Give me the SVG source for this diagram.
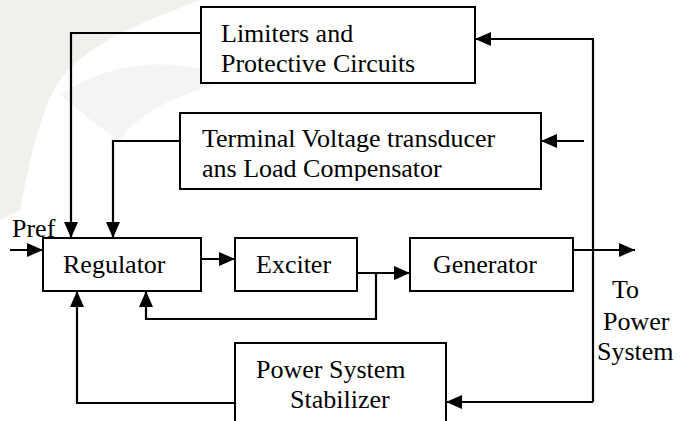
<svg xmlns="http://www.w3.org/2000/svg" width="689" height="421" viewBox="0 0 689 421">
  <defs>
    <style>
      .box { fill: #ffffff; stroke: #000000; stroke-width: 2; }
      .wire { fill: none; stroke: #000000; stroke-width: 2.2; }
      .lbl { font-family: "Liberation Serif", "Times New Roman", serif; font-size: 26px; fill: #000000; }
    </style>
    <marker id="arr" markerUnits="userSpaceOnUse" markerWidth="16" markerHeight="14" refX="16" refY="7" orient="auto">
      <path d="M0,0 L16,7 L0,14 z" fill="#000000"/>
    </marker>
    <clipPath id="tvclip">
      <rect x="180" y="113" width="361" height="68"/>
    </clipPath>
  </defs>

  <rect x="0" y="0" width="689" height="421" fill="#ffffff"/>
  <!-- faint background watermark -->
  <g id="watermark" fill="#efede8" opacity="0.8">
    <path d="M0,0 L200,0 C150,20 90,40 60,80 C40,110 30,160 20,210 L0,220 z"/>
    <path d="M60,95 C110,60 180,55 230,80 C200,90 150,100 120,140 C100,130 80,110 60,95 z" opacity="0.7"/>
  </g>

  <g id="connectors">
    <!-- Limiters -> Regulator -->
    <polyline class="wire" points="200,33 71,33 71,238" marker-end="url(#arr)"/>
    <!-- Terminal -> Regulator -->
    <polyline class="wire" points="180,141 113,141 113,238" marker-end="url(#arr)"/>
    <!-- Pref -> Regulator -->
    <line class="wire" x1="10" y1="250" x2="43" y2="250" marker-end="url(#arr)"/>
    <!-- Regulator -> Exciter -->
    <line class="wire" x1="201" y1="259" x2="235" y2="259" marker-end="url(#arr)"/>
    <!-- Exciter -> Generator -->
    <line class="wire" x1="357" y1="273" x2="410" y2="273" marker-end="url(#arr)"/>
    <!-- Exciter feedback to Regulator -->
    <polyline class="wire" points="376,273 376,319 146,319 146,291" marker-end="url(#arr)"/>
    <!-- Generator output -->
    <line class="wire" x1="573" y1="250" x2="635" y2="250" marker-end="url(#arr)"/>
    <!-- Right bus to Limiters and PSS -->
    <polyline class="wire" points="593,402 593,39 475,39" marker-end="url(#arr)"/>
    <line class="wire" x1="593" y1="402" x2="446" y2="402" marker-end="url(#arr)"/>
    <!-- To Terminal transducer -->
    <line class="wire" x1="584" y1="141" x2="541" y2="141" marker-end="url(#arr)"/>
    <!-- PSS -> Regulator -->
    <polyline class="wire" points="235,403 77,403 77,291" marker-end="url(#arr)"/>
  </g>

  <g id="limiters">
    <rect class="box" x="201" y="7" width="274" height="76"/>
    <text class="lbl" x="221" y="42">Limiters and</text>
    <text class="lbl" x="221" y="72">Protective Circuits</text>
  </g>

  <g id="terminal">
    <rect class="box" x="180" y="113" width="361" height="76"/>
    <g clip-path="url(#tvclip)">
      <text class="lbl" x="202" y="147">Terminal Voltage transducer</text>
      <text class="lbl" x="202" y="177">ans Load Compensator</text>
    </g>
  </g>

  <g id="regulator">
    <rect class="box" x="43" y="238" width="158" height="53"/>
    <text class="lbl" x="63" y="273">Regulator</text>
  </g>

  <g id="exciter">
    <rect class="box" x="235" y="238" width="122" height="53"/>
    <text class="lbl" x="256" y="273">Exciter</text>
  </g>

  <g id="generator">
    <rect class="box" x="410" y="238" width="163" height="53"/>
    <text class="lbl" x="433" y="273">Generator</text>
  </g>

  <g id="pss">
    <rect class="box" x="235" y="343" width="211" height="90"/>
    <text class="lbl" x="256" y="378">Power System</text>
    <text class="lbl" x="290" y="408">Stabilizer</text>
  </g>

  <g id="labels">
    <text class="lbl" x="12" y="237">Pref</text>
    <text class="lbl" x="612" y="298">To</text>
    <text class="lbl" x="603" y="330">Power</text>
    <text class="lbl" x="597" y="360">System</text>
  </g>
</svg>
